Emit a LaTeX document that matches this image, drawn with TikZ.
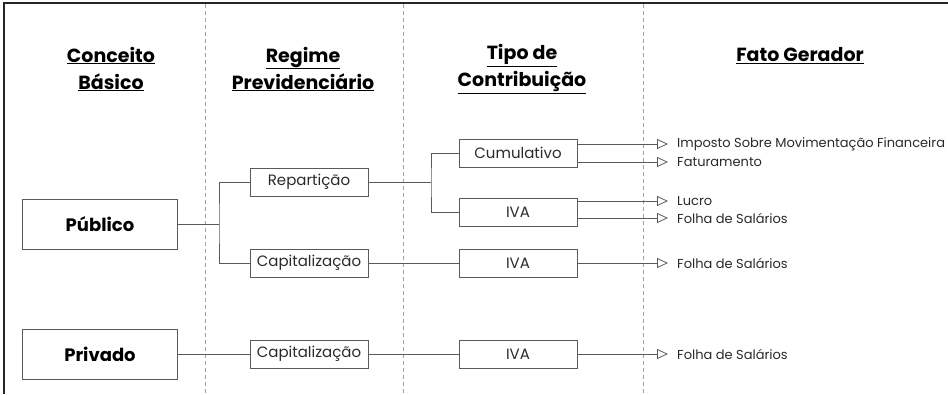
\documentclass[tikz,border=0pt]{standalone}
\usepackage{fontspec}
\setmainfont{Poppins}
\usetikzlibrary{arrows.meta}
\definecolor{linegray}{HTML}{5A5A5A}
\definecolor{sepgray}{HTML}{A0A0A0}
\definecolor{txt}{HTML}{2A2A2A}
\begin{document}
\begin{tikzpicture}[x=1pt,y=-1pt,
 box/.style={draw=linegray, line width=0.9pt, minimum width=118pt, minimum height=28pt, inner sep=0pt, text=txt, font=\fontsize{15}{17}\selectfont},
 bigbox/.style={draw=linegray, line width=0.9pt, minimum width=155pt, minimum height=50pt, inner sep=0pt, text=black, font=\fontsize{18}{20}\selectfont\bfseries},
 head/.style={align=center, inner sep=0pt, text=black, font=\fontsize{19}{27}\selectfont\bfseries},
 conn/.style={draw=linegray, line width=0.9pt},
 arr/.style={conn, -{Triangle[open,length=11pt,width=10pt,line width=0.8pt]}},
 fato/.style={anchor=west, inner sep=0pt, text=txt, font=\fontsize{13}{15}\selectfont},
 sepline/.style={draw=sepgray, dash pattern=on 4pt off 3pt, line width=0.9pt}
]
\useasboundingbox (0,0) rectangle (948,394);
% frame
\draw[line width=1.4pt, draw=black!85] (4,394) -- (4,3) -- (948,3);
% separators
\foreach \x in {205,403,643} \draw[sepline] (\x,4) -- (\x,394);
% headers
\node[head] (h1) at (111,69) {\underline{Conceito}\\\underline{Básico}};
\node[head] (h2) at (303,69) {\underline{Regime}\\\underline{Previdenciário}};
\node[head] (h3) at (522,69) {\underline{Tipo de}\\\underline{Contribuição}};
\node[head] (h4) at (800,56) {\underline{Fato Gerador}};
% boxes
\node[bigbox] (pub) at (100,224) {Público};
\node[bigbox] (priv) at (100,354) {Privado};
\node[box] (rep) at (309,182) {Repartição};
\node[box] (cap1) at (309,263) {Capitalização};
\node[box] (cap2) at (309,354) {Capitalização};
\node[box] (cum) at (518,153) {Cumulativo};
\node[box] (iva1) at (518,212) {IVA};
\node[box] (iva2) at (518,263) {IVA};
\node[box] (iva3) at (518,354) {IVA};
% fato gerador texts
\node[fato] (imp) at (677,144) {Imposto Sobre Movimentação Financeira};
\node[fato] (fat) at (677,162) {Faturamento};
\node[fato] (luc) at (677,201) {Lucro};
\node[fato] (fol1) at (677,218) {Folha de Salários};
\node[fato] (fol2) at (677,263) {Folha de Salários};
\node[fato] (fol3) at (677,354) {Folha de Salários};
% tree connectors
\coordinate (b1) at (219,224);
\coordinate (b2) at (431,182);
\draw[conn] (pub.east) -- (b1);
\draw[conn] (rep.west) -| (b1) |- (cap1.west);
\draw[conn] (rep.east) -- (b2);
\draw[conn] (cum.west) -| (b2) |- (iva1.west);
\draw[conn] (cap1.east) -- (iva2.west);
\draw[conn] (priv.east) -- (cap2.west);
\draw[conn] (cap2.east) -- (iva3.west);
% arrows
\draw[arr] (cum.east |- imp.west) -- ([xshift=-9pt]imp.west);
\draw[arr] (cum.east |- fat.west) -- ([xshift=-9pt]fat.west);
\draw[arr] (iva1.east |- luc.west) -- ([xshift=-9pt]luc.west);
\draw[arr] (iva1.east |- fol1.west) -- ([xshift=-9pt]fol1.west);
\draw[arr] (iva2.east) -- ([xshift=-9pt]fol2.west);
\draw[arr] (iva3.east) -- ([xshift=-9pt]fol3.west);
\end{tikzpicture}
\end{document}
